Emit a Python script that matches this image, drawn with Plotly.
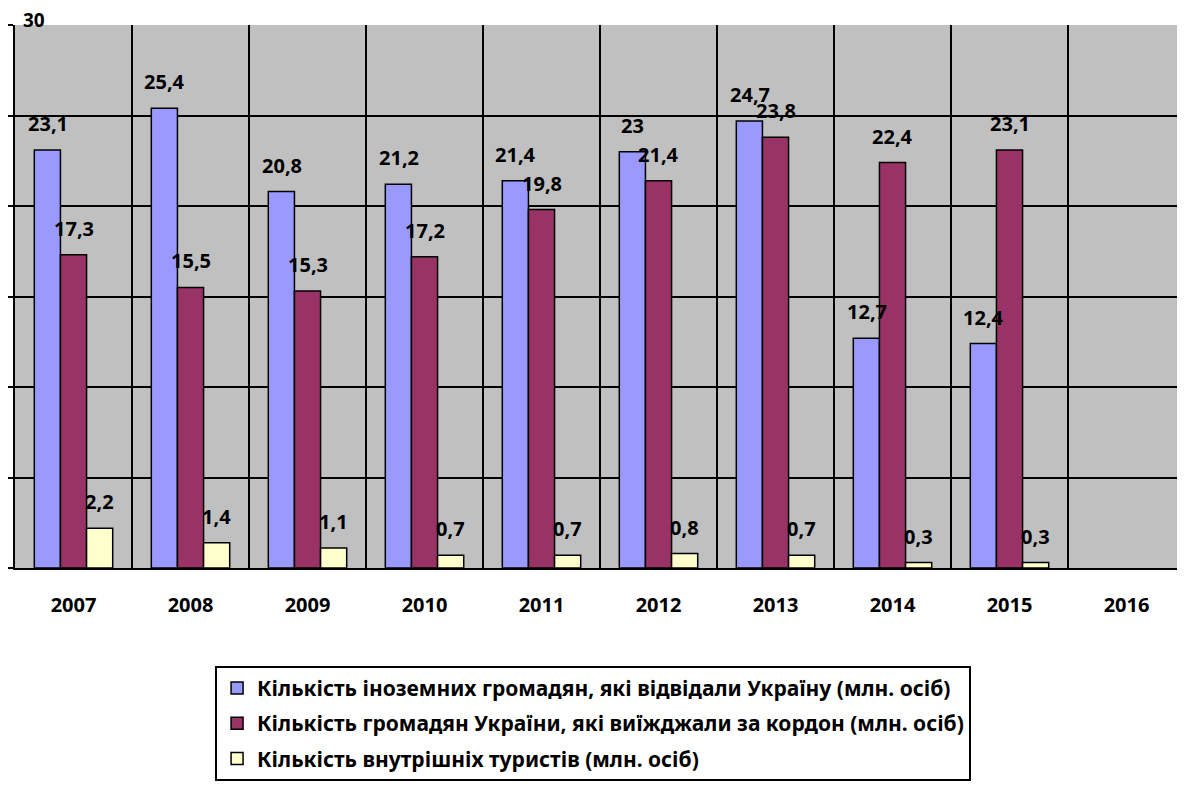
import plotly.graph_objects as go

years = ["2007", "2008", "2009", "2010", "2011", "2012", "2013", "2014", "2015", "2016"]
foreign = [23.1, 25.4, 20.8, 21.2, 21.4, 23.0, 24.7, 12.7, 12.4, None]
abroad = [17.3, 15.5, 15.3, 17.2, 19.8, 21.4, 23.8, 22.4, 23.1, None]
domestic = [2.2, 1.4, 1.1, 0.7, 0.7, 0.8, 0.7, 0.3, 0.3, None]

names = [
    "Кількість іноземних громадян, які відвідали Україну (млн. осіб)",
    "Кількість громадян України, які виїжджали за кордон (млн. осіб)",
    "Кількість внутрішніх туристів (млн. осіб)",
]
colors = ["#9999FF", "#993366", "#FFFFCC"]
yticks = [0, 5, 10, 15, 20, 25, 30]

def fmt(v):
    return ("%g" % v).replace(".", ",")

FONT = "Noto Sans, Open Sans, sans-serif"
LABEL_FONT = dict(family=FONT, size=20, color="black", weight="bold")

fig = go.Figure()
for i, (vals, name, col) in enumerate(zip([foreign, abroad, domestic], names, colors)):
    fig.add_trace(go.Bar(
        x=years, y=vals, name=name, legendgroup=str(i),
        marker=dict(color=col, line=dict(color="black", width=1.5)),
    ))

# value labels, placed via the data scales (shifted to each bar in the group)
annotations = []
for i, vals in enumerate([foreign, abroad, domestic]):
    for j, v in enumerate(vals):
        if v is None:
            continue
        annotations.append(dict(
            x=j, y=v, xref="x", yref="y", text=fmt(v), showarrow=False,
            xanchor="center", yanchor="bottom", xshift=(i - 1) * 26, yshift=11,
            font=LABEL_FONT,
        ))
annotations.append(dict(
    text="<b>30</b>", xref="paper", yref="y", x=0.005, y=30,
    xanchor="left", yanchor="middle", yshift=5, showarrow=False,
    font=dict(family=FONT, size=19, color="black"),
))

fig.update_layout(
    width=1177, height=781,
    barmode="group", bargap=0.33, bargroupgap=0,
    paper_bgcolor="white", plot_bgcolor="#C0C0C0",
    margin=dict(l=7, r=0, t=17, b=221),
    font=dict(family=FONT, color="black"),
    showlegend=True,
    legend=dict(
        x=0.171, xanchor="left", y=-0.180, yanchor="top",
        bgcolor="white", bordercolor="black", borderwidth=2,
        font=dict(family=FONT, size=21, color="black", weight="bold"),
        tracegroupgap=5, itemwidth=30,
    ),
    xaxis=dict(
        type="category", tickson="boundaries", range=[-0.5, len(years) - 0.5],
        autorange=False,
        showgrid=True, gridcolor="black", gridwidth=2,
        showline=True, linecolor="black", linewidth=2,
        ticks="", tickfont=dict(family=FONT, size=20, color="black", weight="bold"),
        ticklabelstandoff=18, tickangle=0,
    ),
    yaxis=dict(
        range=[0, 30], tickvals=yticks, showticklabels=False,
        showgrid=True, gridcolor="black", gridwidth=2,
        showline=True, linecolor="black", linewidth=2,
        ticks="outside", ticklen=7, tickcolor="black", tickwidth=1.5,
        zeroline=False,
    ),
    annotations=annotations,
)

fig.write_html("out.html")
